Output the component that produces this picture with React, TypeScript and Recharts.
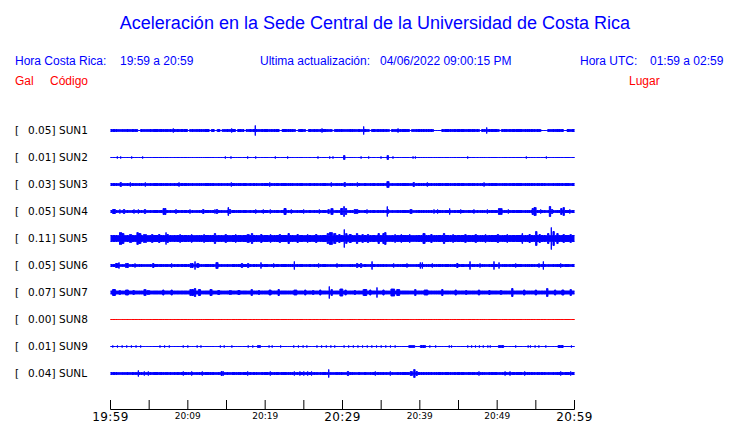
import { ComposedChart, Area, XAxis, YAxis } from 'recharts';

const BLUE = '#0000ff';
const RED = '#ff0000';

const stations = ['SUN1', 'SUN2', 'SUN3', 'SUN4', 'SUN5', 'SUN6', 'SUN7', 'SUN8', 'SUN9', 'SUNL'];
const peakGal = ['0.05', '0.01', '0.03', '0.05', '0.11', '0.05', '0.07', '0.00', '0.01', '0.04'];
const places = [
  'CIMAR', 'Ingenieria P01', 'Ingenieria P06', 'EBCI', 'Rectoria',
  'Agroalimentarias', 'Archivo', 'Electrica P06', 'Electrica P01', 'LANAMME-CTT',
];

// half height of the quiet trace (px)
const quiet = [1, 0, 1, 1, 3, 1, 1.5, 0, 0, 1];

// bursts: [minute after 19:59, half height, duration in minutes]
type Burst = [number, number, number?];
const sun1: Burst[] = [
  [3.7, 0, 0.5], [8.12, 2], [10.1, 0, 0.4], [12.9, 0, 0.4], [13.6, 0, 0.5], [14.3, 0, 0.4],
  [15.67, 2], [16.3, 0, 0.4], [17.4, 0, 0.4], [18.72, 5], [20.46, 0, 0.2], [22.0, 0, 0.5],
  [24.1, 0, 0.5], [25.4, 0, 0.5], [27.35, 2], [28.8, 0, 0.4], [32.74, 4], [33.6, 0, 0.4],
  [36.2, 0, 0.4], [37.18, 2], [38.8, 0, 0.4], [42.3, 0, 1.2], [47.85, 0, 0.4], [48.65, 3],
  [50.4, 0, 0.4], [56.1, 0, 1.0], [58.8, 0, 0.6],
];
const sun2: Burst[] = [
  [0.88, 1], [1.32, 1], [2.74, 1], [4.16, 1], [14.85, 1], [15.58, 1], [17.74, 1], [18.78, 1],
  [21.31, 1], [22.91, 1], [26.83, 1], [28.35, 1], [28.77, 1], [30.23, 2, 0.3], [32.4, 1],
  [33.39, 1], [34.98, 1], [35.85, 2, 0.3], [36.53, 1], [39.12, 1], [39.42, 1], [46.19, 1],
  [53.77, 1], [56.36, 1],
];
const sun3: Burst[] = [
  [1.32, 2, 0.3], [2.56, 2], [4.5, 2], [8.86, 2], [15.62, 2], [20.6, 2], [28.55, 2],
  [30.29, 2, 0.3], [31.92, 2], [35.88, 3, 0.4], [39.21, 2, 0.3], [40.97, 2], [48.3, 2],
];
const sun4: Burst[] = [
  [0.45, 2, 0.5], [1.22, 2], [1.75, 2, 0.3], [3.04, 2], [3.6, 2], [4.46, 2, 0.3], [6.98, 3, 0.5],
  [8.47, 2, 0.2], [10.28, 2], [12.0, 2, 0.3], [13.51, 2], [13.77, 2, 0.3], [15.23, 4, 0.2],
  [15.45, 2, 0.3], [18.78, 2], [19.76, 2], [20.66, 2], [22.57, 3, 0.4], [23.38, 2], [24.98, 2],
  [27.0, 2], [28.2, 2, 0.3], [28.64, 3, 0.4], [29.9, 3, 0.4], [30.2, 5, 0.2], [30.45, 3, 0.3],
  [31.75, 2, 0.6], [33.17, 2], [35.79, 5], [35.95, 2], [38.86, 2, 0.4], [41.83, 2], [42.3, 2],
  [43.86, 3], [45.29, 2], [47.0, 2], [48.73, 2], [50.4, 3, 0.6], [51.44, 2], [54.6, 3, 0.3],
  [54.9, 4, 0.4], [55.63, 2], [56.83, 5, 0.3], [57.1, 2, 0.3], [58.3, 3, 0.3], [58.6, 4, 0.3],
  [59.4, 2],
];
const sun5: Burst[] = [
  [1.3, 6, 0.4], [1.6, 5, 0.4], [2.6, 4, 0.4], [3.5, 6, 0.3], [3.75, 5, 0.5], [4.46, 4, 0.5],
  [5.4, 4, 0.3], [6.3, 4, 0.3], [7.18, 6], [7.4, 4, 0.3], [9.0, 4, 0.2], [10.5, 4, 0.2],
  [12.1, 4, 0.2], [13.51, 5, 0.3], [14.9, 4, 0.3], [16.2, 4, 0.2], [17.8, 4, 0.4], [18.3, 5, 0.3],
  [19.5, 4, 0.3], [20.7, 4, 0.2], [21.9, 4, 0.3], [23.04, 5, 0.3], [24.2, 4, 0.3], [25.5, 4, 0.2],
  [26.6, 4, 0.3], [28.1, 5, 0.3], [28.5, 6, 0.5], [29.0, 5, 0.4], [29.6, 4, 0.3], [30.23, 9],
  [30.5, 5, 0.3], [31.0, 4, 0.4], [31.88, 5, 0.3], [32.6, 4, 0.3], [33.3, 4, 0.3], [34.68, 5, 0.3],
  [35.3, 5, 0.3], [35.54, 6, 0.3], [36.8, 4, 0.2], [37.6, 4, 0.2], [38.7, 4, 0.2], [40.54, 5, 0.4],
  [41.5, 4, 0.3], [43.13, 5, 0.3], [44.3, 4, 0.2], [45.9, 4, 0.3], [47.23, 4, 0.3], [48.5, 4, 0.2],
  [50.1, 4, 0.3], [51.3, 4, 0.2], [53.25, 5, 0.2], [54.2, 4, 0.3], [55.06, 7, 0.3], [55.5, 4, 0.3],
  [56.6, 5, 0.3], [57.0, 11], [57.3, 7, 0.3], [57.8, 5, 0.3], [58.6, 4, 0.3], [59.5, 4, 0.3],
];
const sun6: Burst[] = [
  [0.84, 2, 0.5], [1.1, 3], [2.13, 2, 0.5], [3.17, 2], [5.53, 2, 0.3], [7.91, 2], [10.5, 2, 0.5],
  [10.93, 4], [11.3, 2, 0.4], [13.77, 3, 0.4], [17.0, 2, 0.3], [17.8, 2, 0.3], [19.46, 3],
  [21.1, 2], [23.77, 4], [26.92, 2], [29.29, 2], [31.9, 2, 0.3], [32.4, 2, 0.3], [33.82, 4],
  [36.62, 2], [38.34, 2], [40.06, 3], [40.32, 3], [41.61, 2], [44.85, 2, 0.3], [46.49, 4],
  [47.78, 2], [49.59, 4], [50.24, 3], [52.4, 2], [55.41, 2], [55.97, 4], [58.22, 2],
];
const sun7: Burst[] = [
  [0.45, 3, 0.5], [1.2, 2, 0.3], [2.13, 2.5, 0.5], [3.0, 2, 0.3], [4.46, 3, 0.4], [4.9, 2, 0.4],
  [6.83, 2.5, 0.3], [7.91, 2.5, 0.3], [10.5, 3, 0.6], [10.93, 4, 0.3], [11.5, 3, 0.4],
  [13.0, 3, 0.4], [14.0, 2, 0.4], [15.5, 2, 0.4], [16.6, 2, 0.4], [18.26, 3, 0.3], [19.2, 2, 0.3],
  [20.63, 2.5, 0.4], [21.75, 3, 0.3], [23.9, 2.5, 0.5], [25.19, 2.5, 0.3], [26.2, 2, 0.3],
  [27.13, 2.5, 0.3], [28.29, 6], [28.6, 3, 0.3], [29.85, 3.5, 0.5], [30.4, 2.5, 0.3],
  [31.6, 2, 0.3], [32.9, 3, 0.6], [33.6, 2.5, 0.3], [34.46, 5], [35.3, 2.5, 0.3], [36.5, 3.5, 0.6],
  [37.2, 3, 0.5], [39.42, 3, 0.3], [40.8, 2.5, 0.6], [42.91, 3, 0.3], [44.64, 2.5, 0.3],
  [46.0, 2, 0.3], [47.65, 2.5, 0.3], [49.0, 2, 0.3], [50.5, 2, 0.3], [51.96, 4, 0.3],
  [53.5, 2.5, 0.3], [55.0, 2.5, 0.3], [56.48, 4, 0.3], [57.5, 2.5, 0.3], [58.5, 2.5, 0.4],
  [59.51, 3, 0.3],
];
const sun8: Burst[] = [];
const sun9: Burst[] = [
  [0.3, 1], [0.9, 1], [1.5, 1], [2.1, 1], [2.7, 1], [3.3, 1], [3.9, 1], [6.4, 1], [7.0, 1],
  [7.6, 1], [9.4, 1], [10.0, 1], [11.2, 1], [11.7, 1], [14.2, 1], [14.7, 1], [15.7, 1],
  [17.8, 1], [18.4, 1], [19.2, 1, 0.5], [20.5, 1], [20.9, 1], [22.0, 1], [23.7, 1], [24.3, 1],
  [24.9, 1], [25.4, 1], [26.7, 1], [27.3, 1], [27.9, 1], [28.5, 1], [29.0, 1], [30.2, 1],
  [30.8, 1], [31.4, 1], [32.0, 1], [32.6, 1], [33.2, 1], [33.8, 1], [34.4, 1], [35.0, 1],
  [35.6, 1], [36.2, 1], [36.8, 1], [38.6, 1], [39.0, 1, 0.8], [40.4, 1, 0.8], [41.3, 1],
  [42.05, 1], [43.8, 1], [44.1, 1], [46.2, 1], [46.7, 1], [47.2, 1], [47.7, 1], [48.2, 1],
  [48.8, 1], [49.1, 1], [50.5, 1, 0.8], [52.4, 1], [54.0, 1], [54.3, 1], [54.9, 1], [55.4, 1],
  [56.3, 1], [58.2, 1, 0.8], [59.6, 1],
];
const sunl: Burst[] = [
  [3.6, 3], [4.37, 2], [4.89, 2], [9.41, 2], [10.5, 2], [11.87, 2], [14.38, 2, 0.3], [14.6, 2],
  [17.74, 2], [20.66, 2], [23.77, 2], [24.5, 2], [25.0, 2], [25.5, 2], [26.0, 2], [28.22, 4],
  [30.71, 2, 0.3], [34.24, 2], [36.18, 2], [38.9, 2, 0.4], [39.3, 4, 0.3], [39.6, 2, 0.3],
  [47.65, 2], [51.02, 2], [51.66, 2], [53.56, 2], [58.22, 2], [59.51, 2],
];
const bursts = [sun1, sun2, sun3, sun4, sun5, sun6, sun7, sun8, sun9, sunl];

const minuteTicks = [0, 5, 10, 15, 20, 25, 30, 35, 40, 45, 50, 55, 60];
const labelMinutes = [0, 10, 20, 30, 40, 50, 60];
const labelTexts = ['19:59', '20:09', '20:19', '20:29', '20:39', '20:49', '20:59'];
const bigLabels = ['19:59', '20:29', '20:59'];

// vertical layout: one 27px slot per station
const SLOT = 27;
const Y_MAX = 306;
const centerOf = (i: number) => Y_MAX - SLOT * (i + 1);
const centers = stations.map((_, i) => centerOf(i));
// a lone spike is ~1px wide; the 1px stroke already adds that, so trim burst widths by it
const PX_MIN = 60 / 464;
const SPIKE = 0.15;
const r3 = (n: number) => Math.round(n * 1000) / 1000;
const span = ([m, , w = SPIKE]: Burst): [number, number] => {
  const half = Math.max(0.01, w - PX_MIN) / 2;
  return [r3(m - half), r3(m + half)];
};

const cuts = new Set<number>([0, 60]);
bursts.forEach((list) => list.forEach((b) => span(b).forEach((t) => cuts.add(t))));
const times = [...cuts].filter((t) => t >= 0 && t <= 60).sort((a, b) => a - b);

const rows = times.map((t) => {
  const row: Record<string, any> = { t };
  stations.forEach((s, i) => {
    const hits = bursts[i].filter((b) => {
      const [a, z] = span(b);
      return t >= a && t < z;
    });
    const amp = hits.length ? Math.max(...hits.map((h) => h[1])) : quiet[i];
    row[s] = [centerOf(i) - amp, centerOf(i) + amp];
  });
  return row;
});

const LABEL_FONT = 'DejaVu Sans, sans-serif';
const HEAD_FONT = 'Liberation Sans, Arial, sans-serif';

const indexOf = (v: number) => Math.round((Y_MAX - SLOT - v) / SLOT);

function LeftTick(props: any) {
  const i = indexOf(props.payload.value);
  const y = props.y + 3.8;
  return (
    <text y={y} fontFamily={LABEL_FONT} fontSize={10.5} fill="#000">
      <tspan x={15}>[</tspan>
      <tspan x={28}>{peakGal[i]}]</tspan>
      <tspan x={59}>{stations[i]}</tspan>
    </text>
  );
}

function RightTick(props: any) {
  const i = indexOf(props.payload.value);
  return (
    <text x={587} y={props.y + 3.8} fontFamily={LABEL_FONT} fontSize={10.5} fill="#000">
      {places[i]}
    </text>
  );
}

function TimeTick(props: any) {
  const { x, y, payload } = props;
  const k = labelMinutes.indexOf(payload.value);
  const label = k >= 0 ? labelTexts[k] : null;
  const big = label ? bigLabels.includes(label) : false;
  return (
    <g>
      <line x1={x} x2={x} y1={y - 9.5} y2={y} stroke="#000" strokeWidth={1} />
      {label && (
        <text
          x={x}
          y={big ? y + 11.5 : y + 9.5}
          textAnchor="middle"
          fontFamily={LABEL_FONT}
          fontSize={big ? 12 : 9}
          letterSpacing={big ? 0.4 : 0}
          fill="#000"
        >
          {label}
        </text>
      )}
    </g>
  );
}

export default function App() {
  return (
    <div style={{ position: 'absolute', left: 0, top: 0, width: 740, height: 423, background: '#fff' }}>
      <svg width={740} height={423} style={{ position: 'absolute', left: 0, top: 0 }}>
        <text x={375} y={29} textAnchor="middle" fontFamily={HEAD_FONT} fontSize={18} fill={BLUE}>
          Aceleración en la Sede Central de la Universidad de Costa Rica
        </text>
        <g fontFamily={HEAD_FONT} fontSize={12} fill={BLUE}>
          <text x={15} y={65}>Hora Costa Rica:</text>
          <text x={120} y={65}>19:59 a 20:59</text>
          <text x={260} y={65}>Ultima actualización:</text>
          <text x={380} y={65}>04/06/2022 09:00:15 PM</text>
          <text x={580} y={65}>Hora UTC:</text>
          <text x={650} y={65}>01:59 a 02:59</text>
        </g>
        <g fontFamily={HEAD_FONT} fontSize={12} fill={RED}>
          <text x={15} y={85}>Gal</text>
          <text x={50} y={85}>Código</text>
          <text x={629} y={85}>Lugar</text>
        </g>
      </svg>
      <div style={{ position: 'absolute', left: 0, top: 0 }}>
        <ComposedChart
          width={740}
          height={423}
          data={rows}
          margin={{ top: 103.5, right: 0.5, bottom: 0.5, left: 0.5 }}
        >
          <XAxis
            dataKey="t"
            type="number"
            domain={[0, 60]}
            ticks={minuteTicks}
            interval={0}
            height={13}
            tickSize={0}
            tickMargin={0}
            tickLine={false}
            axisLine={{ stroke: '#000', strokeWidth: 1 }}
            tick={<TimeTick />}
          />
          <YAxis
            type="number"
            domain={[0, Y_MAX]}
            ticks={centers}
            interval={0}
            width={110}
            axisLine={false}
            tickLine={false}
            tick={<LeftTick />}
          />
          <YAxis
            yAxisId="r"
            orientation="right"
            type="number"
            domain={[0, Y_MAX]}
            ticks={centers}
            interval={0}
            width={165}
            axisLine={false}
            tickLine={false}
            tick={<RightTick />}
          />
          {stations.map((s) => {
            const c = s === 'SUN8' ? RED : BLUE;
            return (
              <Area
                key={s}
                dataKey={s}
                type="stepAfter"
                stroke={c}
                strokeWidth={1}
                fill={c}
                fillOpacity={1}
                dot={false}
                activeDot={false}
                isAnimationActive={false}
              />
            );
          })}
        </ComposedChart>
      </div>
    </div>
  );
}
